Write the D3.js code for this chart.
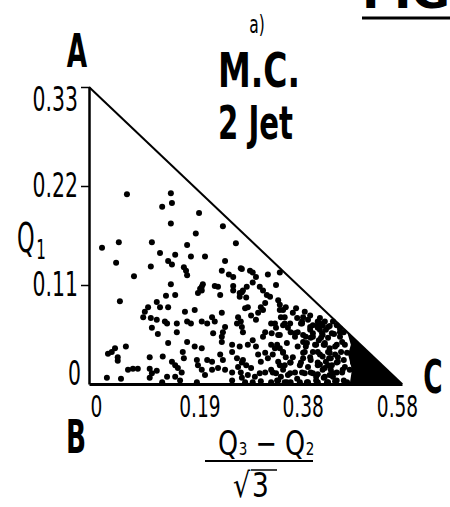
<!DOCTYPE html>
<html>
<head>
<meta charset="utf-8">
<script src="https://cdn.jsdelivr.net/npm/d3@7"></script>
<style>
  body { margin: 0; background: #fff; }
  svg { display: block; }
  text { font-family: "DejaVu Sans", sans-serif; fill: #000; }
</style>
</head>
<body>
<div id="chart_svg"></div>
<script>
// Dalitz-like triangle plot, Q1 vs (Q3-Q2)/sqrt3, MC 2 jet events

// axis ticks
const xTickValues = [0, 0.1925, 0.3849, 0.5774]
const xTickLabels = ["0", "0.19", "0.38", "0.58"]
const yTickValues = [0, 0.1111, 0.2222, 0.3333]
const yTickLabels = ["0", "0.11", "0.22", "0.33"]

// corners of the allowed region A - B - C
const corners = [[0, 0.3333], [0, 0], [0.5774, 0]]
const cornerNames = ["A", "B", "C"]

// events [ (Q3-Q2)/sqrt3 , Q1 ]
const upperEvents = [
  [0.070,0.213],[0.151,0.214],[0.153,0.203],[0.135,0.199],[0.203,0.192],[0.151,0.180],
  [0.247,0.177],[0.197,0.169],[0.024,0.153],[0.055,0.159],[0.116,0.159],[0.181,0.156],
  [0.271,0.158],[0.131,0.147],[0.159,0.145],[0.188,0.143],[0.214,0.143],[0.050,0.136],
  [0.114,0.132],[0.146,0.138],[0.153,0.134],[0.175,0.131],[0.179,0.127],[0.181,0.122],
  [0.251,0.138],[0.245,0.127],[0.258,0.123],[0.282,0.129],[0.083,0.121],[0.151,0.112],
  [0.208,0.109],[0.205,0.107],[0.232,0.110],[0.238,0.109],[0.266,0.110]
]

const middleEvents = [
  [0.210,0.112],[0.208,0.105],[0.201,0.102],[0.242,0.100],[0.282,0.103],[0.057,0.093],
  [0.142,0.099],[0.159,0.100],[0.125,0.092],[0.131,0.086],[0.109,0.086],[0.103,0.081],
  [0.100,0.075],[0.146,0.086],[0.114,0.074],[0.125,0.072],[0.140,0.070],[0.144,0.068],
  [0.116,0.063],[0.162,0.068],[0.177,0.081],[0.195,0.083],[0.181,0.070],[0.188,0.068],
  [0.208,0.070],[0.218,0.068],[0.227,0.075],[0.232,0.070],[0.245,0.080],[0.251,0.064],
  [0.247,0.058],[0.245,0.053],[0.245,0.047],[0.229,0.057],[0.275,0.075],[0.273,0.068],
  [0.282,0.064],[0.284,0.058],[0.127,0.056],[0.162,0.058],[0.146,0.046],[0.181,0.047],
  [0.195,0.042],[0.208,0.040],[0.264,0.044],
  [0.280,0.130],[0.297,0.127],[0.308,0.120],[0.302,0.114],[0.330,0.123],[0.352,0.125],
  [0.345,0.111],[0.284,0.105],[0.278,0.102],[0.315,0.109],[0.321,0.105],[0.290,0.097],
  [0.334,0.098],[0.325,0.091],[0.317,0.086],[0.349,0.094],[0.352,0.089],[0.363,0.086],
  [0.382,0.085],[0.293,0.086],[0.358,0.083],[0.361,0.075],[0.376,0.080],[0.384,0.074],
  [0.393,0.070],[0.398,0.081],[0.408,0.077],[0.422,0.066],[0.426,0.061],[0.408,0.061],
  [0.413,0.053],[0.385,0.058],[0.266,0.120],[0.266,0.105],[0.291,0.109],[0.278,0.098],
  [0.328,0.100],[0.302,0.125]
]

const lowerEvents = [
  [0.068,0.042],[0.048,0.040],[0.042,0.036],[0.035,0.034],[0.053,0.030],[0.053,0.026],
  [0.112,0.030],[0.136,0.031],[0.153,0.025],[0.159,0.021],[0.164,0.018],[0.171,0.013],
  [0.173,0.036],[0.175,0.029],[0.199,0.027],[0.201,0.021],[0.218,0.027],[0.227,0.025],
  [0.242,0.033],[0.247,0.027],[0.264,0.036],[0.273,0.029],[0.282,0.024],[0.072,0.016],
  [0.081,0.017],[0.090,0.017],[0.112,0.017],[0.116,0.012],[0.125,0.015],[0.144,0.008],
  [0.159,0.008],[0.168,0.004],[0.208,0.016],[0.214,0.010],[0.227,0.016],[0.238,0.018],
  [0.251,0.016],[0.264,0.013],[0.275,0.019],[0.033,0.007],[0.059,0.006],[0.112,0.007],
  [0.135,0.002],[0.199,0.002],[0.264,0.004],[0.282,0.007]
]

const denseEvents = [
  [0.288,0.085],[0.299,0.077],[0.312,0.080],[0.321,0.083],[0.308,0.072],[0.280,0.070],
  [0.352,0.083],[0.354,0.075],[0.361,0.068],[0.367,0.063],[0.395,0.075],[0.391,0.068],
  [0.404,0.072],[0.413,0.066],[0.400,0.053],[0.422,0.070],[0.431,0.066],[0.437,0.061],
  [0.336,0.068],[0.345,0.063],[0.349,0.055],[0.325,0.058],[0.321,0.053],[0.372,0.058],
  [0.380,0.053],[0.302,0.049],[0.293,0.044],[0.308,0.042],[0.278,0.042],[0.336,0.044],
  [0.343,0.040],[0.352,0.040],[0.358,0.036],[0.363,0.030],[0.395,0.047],[0.400,0.042],
  [0.398,0.036],[0.395,0.029],[0.391,0.024],[0.409,0.052],[0.417,0.044],[0.413,0.036],
  [0.409,0.027],[0.428,0.052],[0.435,0.044],[0.441,0.036],[0.446,0.029],[0.437,0.025],
  [0.312,0.033],[0.325,0.035],[0.330,0.029],[0.317,0.025],[0.284,0.027],[0.290,0.021],
  [0.299,0.018],[0.349,0.025],[0.361,0.021],[0.372,0.024],[0.422,0.021],[0.435,0.018],
  [0.446,0.016],
  [0.280,0.013],[0.293,0.010],[0.306,0.008],[0.315,0.012],[0.325,0.013],[0.336,0.016],
  [0.345,0.012],[0.354,0.008],[0.367,0.010],[0.380,0.013],[0.398,0.012],[0.409,0.013],
  [0.419,0.008],[0.435,0.008],[0.450,0.008],
  [0.288,0.002],[0.302,0.002],[0.317,0.003],[0.336,0.002],[0.349,0.004],[0.361,0.002],
  [0.372,0.002],[0.389,0.002],[0.404,0.002],[0.422,0.002],[0.441,0.002],[0.454,0.003],
  [0.426,0.074],[0.435,0.070],[0.444,0.065],[0.422,0.063],[0.430,0.057],[0.441,0.052],
  [0.452,0.056],[0.463,0.058],[0.424,0.049],[0.433,0.044],[0.444,0.040],[0.457,0.044],
  [0.467,0.047],[0.422,0.036],[0.431,0.031],[0.443,0.029],[0.454,0.033],[0.465,0.036],
  [0.426,0.022],[0.448,0.021],[0.459,0.025],[0.470,0.027],[0.422,0.011],[0.433,0.007],
  [0.444,0.010],[0.457,0.013],[0.468,0.016],[0.470,0.004],[0.450,0.070],[0.463,0.062],
  [0.470,0.058]
]

// tightly packed strip just left of the saturated corner
const packedEvents = [
  [0.343,0.068],[0.358,0.066],[0.371,0.068],[0.393,0.068],[0.408,0.064],[0.426,0.068],
  [0.441,0.064],[0.457,0.066],
  [0.337,0.057],[0.352,0.055],[0.380,0.057],[0.395,0.055],[0.413,0.057],[0.431,0.055],
  [0.448,0.057],[0.463,0.053],
  [0.347,0.044],[0.365,0.046],[0.385,0.042],[0.402,0.046],[0.419,0.044],[0.435,0.046],
  [0.454,0.042],[0.472,0.044],
  [0.339,0.033],[0.358,0.035],[0.376,0.030],[0.395,0.035],[0.408,0.030],[0.426,0.033],
  [0.444,0.035],[0.459,0.030],[0.476,0.035],
  [0.352,0.021],[0.371,0.024],[0.389,0.021],[0.404,0.019],[0.422,0.024],[0.441,0.021],
  [0.457,0.024],[0.472,0.019],[0.487,0.024],
  [0.339,0.013],[0.358,0.016],[0.371,0.012],[0.393,0.013],[0.413,0.012],[0.431,0.016],
  [0.450,0.012],[0.467,0.013],[0.481,0.016],
  [0.347,0.004],[0.365,0.002],[0.384,0.006],[0.402,0.002],[0.419,0.004],[0.439,0.002],
  [0.457,0.004],[0.476,0.002]
]

// the corner near C is saturated, dots merge into solid black
const saturatedCore = [[0.476,0.0585],[0.5774,0],[0.481,0],[0.485,0.016],[0.478,0.033],[0.483,0.044]]


const totalWidth = 450
const totalHeight = 507

var svg = d3.select("#chart_svg")
  .append("svg")
  .attr("width", totalWidth)
  .attr("height", totalHeight)

var x = d3.scaleLinear().domain([0, 0.5774]).range([89, 402])
var y = d3.scaleLinear().domain([0, 0.3333]).range([384, 87])

// narrow stencil lettering: squeeze horizontally
const squeeze = 0.6

// saturated core first, dots on top
svg.append("path")
  .datum(saturatedCore)
  .attr("fill", "#000")
  .attr("d", d3.line().x(d => x(d[0])).y(d => y(d[1])).curve(d3.curveLinearClosed))

var allEvents = upperEvents.concat(middleEvents, lowerEvents, denseEvents, packedEvents)
svg.append("g")
  .selectAll("circle")
  .data(allEvents)
  .join("circle")
  .attr("cx", d => x(d[0]))
  .attr("cy", d => y(d[1]))
  .attr("r", 3)
  .attr("fill", "#000")

// Y axis
var yAxis = svg.append("g")
  .attr("transform", "translate(" + x(0) + ",0)")
  .call(d3.axisLeft(y).tickValues(yTickValues).tickSize(8).tickSizeOuter(0)
    .tickFormat((d, i) => yTickLabels[i]))
yAxis.select(".domain").attr("stroke", "#000").attr("stroke-width", 2.5)
yAxis.selectAll(".tick line").attr("stroke", "#000").attr("stroke-width", 1.5)
  .attr("display", d => d === 0 ? "none" : null)
yAxis.selectAll(".tick text")
  .attr("font-size", 34)
  .attr("font-family", "DejaVu Sans")
  .attr("x", 0)
  .attr("dy", (d, i) => i === 0 ? "-0.0em" : (i === 3 ? "0.68em" : "0.32em"))
  .attr("transform", (d, i) => "translate(" + (i === 0 ? -8 : -11) + ",0) scale(" + squeeze + ",1)")

// X axis
var xAxis = svg.append("g")
  .attr("transform", "translate(0," + y(0) + ")")
  .call(d3.axisBottom(x).tickValues(xTickValues).tickSize(0).tickSizeOuter(0)
    .tickFormat((d, i) => xTickLabels[i]))
xAxis.select(".domain").attr("stroke", "#000").attr("stroke-width", 3)
xAxis.selectAll(".tick text")
  .attr("font-size", 31)
  .attr("font-family", "DejaVu Sans")
  .attr("y", 33).attr("dy", 0)
  .attr("transform", (d, i) => "translate(" + [7, 6, 5, -5][i] + ",0) scale(" + squeeze + ",1)")

// hypotenuse A-C
svg.append("path")
  .datum([corners[0], corners[2]])
  .attr("fill", "none")
  .attr("stroke", "#000")
  .attr("stroke-width", 2)
  .attr("d", d3.line().x(d => x(d[0])).y(d => y(d[1])))

// corner letters
var cornerPos = [[-12, -20], [-13, 69], [31, 9]]
svg.selectAll(".corner")
  .data(corners)
  .join("text")
  .attr("class", "corner")
  .attr("transform", (d, i) => "translate(" + (x(d[0]) + cornerPos[i][0]) + "," + (y(d[1]) + cornerPos[i][1]) + ") scale(0.56,1)")
  .attr("text-anchor", "middle")
  .attr("font-size", 47)
  .attr("font-weight", "bold")
  .text((d, i) => cornerNames[i])

// titles
svg.append("text").attr("transform", "translate(257,33) scale(0.62,1)").attr("text-anchor", "middle")
  .attr("font-size", 25).text("a)")
svg.append("text").attr("x", 218).attr("y", 87)
  .attr("font-size", 48).attr("font-weight", "bold").text("M.C.")
  .attr("textLength", 82).attr("lengthAdjust", "spacingAndGlyphs")
svg.append("text").attr("x", 218).attr("y", 139)
  .attr("font-size", 46).attr("font-weight", "bold").text("2 Jet")
  .attr("textLength", 75).attr("lengthAdjust", "spacingAndGlyphs")

// cut off page header at top right
svg.append("text").attr("x", 362).attr("y", 8)
  .attr("font-size", 44).attr("font-weight", "bold").text("FIG")
  .attr("textLength", 88).attr("lengthAdjust", "spacingAndGlyphs")
svg.append("line").attr("x1", 362).attr("x2", 450).attr("y1", 18).attr("y2", 18)
  .attr("stroke", "#000").attr("stroke-width", 3)

// Y label Q1
var yl = svg.append("text").attr("transform", "translate(17,252) scale(0.56,1)")
yl.append("tspan").attr("font-size", 40).text("Q")
yl.append("tspan").attr("font-size", 27).attr("dx", 3).attr("dy", 7).text("1")

// X label (Q3 - Q2)/sqrt3
var num = svg.append("text").attr("transform", "translate(218,455) scale(0.75,1)")
num.append("tspan").attr("font-size", 34).text("Q")
num.append("tspan").attr("font-size", 18).attr("dx", 1).text("3")
num.append("tspan").attr("font-size", 34).text(" − Q")
num.append("tspan").attr("font-size", 18).attr("dx", 1).text("2")

svg.append("line").attr("x1", 205).attr("x2", 313).attr("y1", 461).attr("y2", 461)
  .attr("stroke", "#000").attr("stroke-width", 2)

var den = svg.append("text").attr("transform", "translate(233,497) scale(0.8,1)")
den.append("tspan").attr("font-size", 34).text("√")
den.append("tspan").attr("font-size", 33).attr("dx", 2).text("3")
svg.append("line").attr("x1", 251).attr("x2", 277).attr("y1", 470).attr("y2", 470)
  .attr("stroke", "#000").attr("stroke-width", 1.5)
</script>
</body>
</html>
